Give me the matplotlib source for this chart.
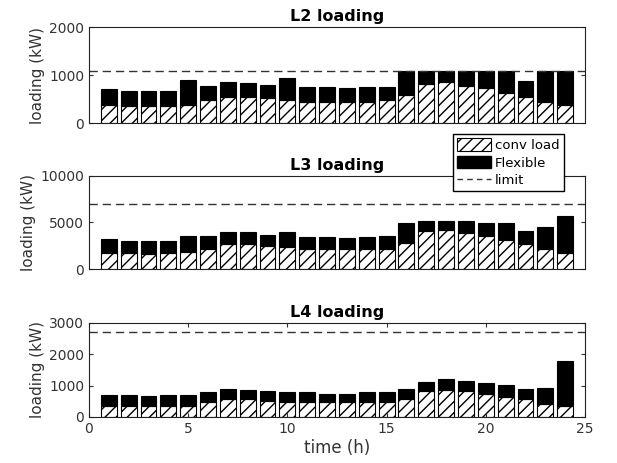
import numpy as np
import matplotlib
matplotlib.use("Agg")
import matplotlib.pyplot as plt
from matplotlib.patches import Patch
from matplotlib.lines import Line2D

plt.rcParams['font.family'] = 'DejaVu Sans'
plt.rcParams['hatch.linewidth'] = 1.0

# ===== data =====
hours = np.arange(1, 25)

l2_conv = [368, 347, 347, 347, 368, 472, 534, 534, 514, 472, 444, 444,
           444, 444, 472, 583, 805, 854, 777, 722, 632, 534, 444, 368]
l2_total = [701, 673, 673, 673, 889, 770, 861, 840, 791, 937, 743, 743,
            722, 743, 743, 1075, 1075, 1075, 1075, 1075, 1080, 868, 1080, 1080]
l2_limit = 1090

l3_conv = [1702, 1702, 1596, 1702, 1844, 2199, 2695, 2695, 2447, 2340, 2199, 2199,
           2199, 2199, 2199, 2837, 4078, 4184, 3830, 3581, 3085, 2695, 2199, 1702]
l3_total = [3191, 3050, 3050, 3050, 3511, 3511, 4007, 4007, 3652, 4007, 3404, 3404,
            3298, 3404, 3511, 4894, 5142, 5142, 5142, 4894, 4894, 4078, 4503, 5745]
l3_limit = 7000

l4_conv = [351, 351, 351, 351, 351, 468, 575, 575, 500, 468, 468, 468,
           468, 468, 468, 575, 830, 872, 830, 724, 649, 575, 426, 351]
l4_total = [713, 713, 670, 713, 713, 798, 904, 862, 830, 798, 798, 745,
            745, 798, 798, 904, 1128, 1202, 1160, 1085, 1011, 904, 936, 1777]
l4_limit = 2700

panels = [
    ("L2 loading", l2_conv, l2_total, l2_limit, 2000, [0, 1000, 2000]),
    ("L3 loading", l3_conv, l3_total, l3_limit, 10000, [0, 5000, 10000]),
    ("L4 loading", l4_conv, l4_total, l4_limit, 3000, [0, 1000, 2000, 3000]),
]

fig = plt.figure(figsize=(6.17, 4.63), dpi=100)
boxes = [[0.1442, 0.7343, 0.8039, 0.2073],
         [0.1442, 0.4190, 0.8039, 0.2009],
         [0.1442, 0.0994, 0.8039, 0.2030]]

for i, (title, conv, total, limit, ymax, yt) in enumerate(panels):
    ax = fig.add_axes(boxes[i])
    conv = np.array(conv)
    flex = np.array(total) - conv
    ax.bar(hours, conv, width=0.8, color='white', edgecolor='black',
           hatch='///', linewidth=0.8)
    ax.bar(hours, flex, width=0.8, bottom=conv, color='black',
           edgecolor='black', linewidth=0.8)
    ax.axhline(limit, color='#333333', linestyle=(0, (6, 3.5)), linewidth=1.0)

    ax.set_xlim(0, 25)
    ax.set_ylim(0, ymax)
    ax.set_yticks(yt)
    ax.set_title(title, fontsize=11.5, fontweight='bold', pad=4)
    ax.set_ylabel('loading (kW)', fontsize=11, color='#333333', labelpad=3)
    ax.tick_params(direction='in', top=True, right=True, labelsize=10,
                   length=3, colors='#333333', labelcolor='#333333')
    if i < 2:
        ax.set_xticks([])
    else:
        ax.set_xticks([0, 5, 10, 15, 20, 25])
        ax.set_xlabel('time (h)', fontsize=12, color='#333333', labelpad=2)
    for s in ax.spines.values():
        s.set_linewidth(0.8)
        s.set_color('#222222')

handles = [Patch(facecolor='white', edgecolor='black', hatch='///', linewidth=0.8),
           Patch(facecolor='black', edgecolor='black'),
           Line2D([], [], color='#333333', linestyle=(0, (4, 3)), linewidth=1.0)]
fig.legend(handles, ['conv load', 'Flexible', 'limit'],
           loc='upper left', bbox_to_anchor=(453 / 617, 1 - 134 / 463),
           fontsize=9.5, frameon=True, fancybox=False, edgecolor='black',
           framealpha=1, borderpad=0.3, labelspacing=0.3, handlelength=2.6,
           handleheight=1.1, handletextpad=0.3, borderaxespad=0)

fig.savefig('out.png', dpi=100)
